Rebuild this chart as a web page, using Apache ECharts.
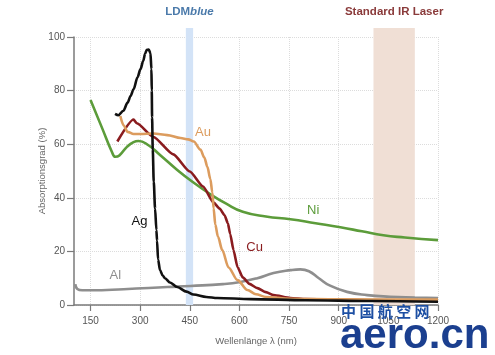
<!DOCTYPE html>
<html>
<head>
<meta charset="utf-8">
<script src="https://cdn.jsdelivr.net/npm/echarts@6/dist/echarts.min.js"></script>
<style>
html,body{margin:0;padding:0;background:#fff;}
#chart{width:495px;height:355px;}
</style>
</head>
<body>
<div id="chart"></div>
<script>
// ---- data (wavelength nm, absorption %) ----
var xTicks = [150, 300, 450, 600, 750, 900, 1050, 1200];
var yTicks = [0, 20, 40, 60, 80, 100];

var ag = [[224,71.3],[234,70.8],[249,72.5],[262,75.5],[271,78],[280,80.5],[292,85],[301,88],[309,91],[315,93.8],[320,95.2],[326,95.3],[331,94],[334,88],[335,80],[336,70],[338,58],[341,46],[345,36],[349,28],[351,24],[354,17],[360,13],[368,11],[375,10],[390,8.4],[412,6.7],[440,5],[461,3.9],[500,3],[533,2.6],[633,2.2],[800,1.8],[1000,1.5],[1200,1.2]];

var au = [[240,70.5],[250,67],[262,64.6],[280,63.8],[300,63.8],[340,64],[382,63.4],[422,62.3],[445,61.8],[462,61],[482,58],[494,55],[503,51.6],[512,47],[518,42],[522,36],[527,30],[535,25.5],[548,20.5],[567,14],[594,9.3],[624,5.6],[650,4],[680,3],[754,2.3],[900,2.1],[1200,2]];

var cu = [[231,61],[280,69.2],[290,67.8],[340,62.7],[400,56.2],[450,49.8],[490,44.2],[522,38.2],[540,36],[555,33.5],[565,30.5],[572,26.5],[582,20.5],[594,14.2],[610,10.3],[630,7.9],[654,6.3],[680,4.8],[703,3.7],[754,2.6],[800,2.2],[1000,1.8],[1200,1.6]];

var ni = [[150,76.5],[185,66],[215,57],[225,55.3],[237,55.8],[260,59],[280,60.8],[295,61.2],[325,59.6],[360,56],[412,50.4],[460,45.8],[510,41.5],[560,37.8],[610,34.8],[680,33],[754,32],[830,30.5],[905,29],[970,27.5],[1035,26],[1100,25.2],[1200,24.2]];

var al = [[104,7.8],[110,6],[125,5.5],[150,5.5],[250,5.9],[382,6.7],[452,7.1],[550,7.8],[603,8.6],[654,10],[703,11.9],[754,13],[784,13.3],[810,12.6],[840,10],[874,7.2],[925,4.9],[986,3.7],[1055,3.1],[1130,2.8],[1200,2.6]];

var ldmBand = [438, 460];
var irBand = [1005, 1130];

// label anchors in data units
var labelAt = {Ag:[298,31], Au:[490,64.5], Cu:[646,21.6], Ni:[823,35.4], Al:[225,11.2]};

var colors = {Ag:'#111111', Au:'#dc9c5e', Cu:'#8a1c1f', Ni:'#5c9c3a', Al:'#8e8e8e'};
var font = 'Liberation Sans, Arial, sans-serif';

var chart = echarts.init(document.getElementById('chart'));

function lineSeries(name, data, smooth, monotone){
  var s = {
    name: name, type: 'line', xAxisIndex: 0, yAxisIndex: 0,
    data: data, showSymbol: false, symbol: 'none',
    smooth: smooth,
    lineStyle: {color: colors[name], width: 2.6},
    z: 3,
    markPoint: {
      symbol: 'circle', symbolSize: 0, silent: true,
      label: {show: true, formatter: name, color: colors[name], fontSize: 13,
              fontFamily: font, position: 'inside'},
      data: [{coord: labelAt[name]}]
    }
  };
  if (monotone) s.smoothMonotone = 'x';
  return s;
}

chart.setOption({
  animation: false,
  backgroundColor: '#fff',
  grid: [
    {left: 74, right: 57, top: 37, bottom: 50},
    {left: 74, right: 57, top: 28, bottom: 50}
  ],
  xAxis: [
    {
      type: 'value', gridIndex: 0, min: 100, max: 1200,
      name: 'Wellenlänge λ (nm)', nameLocation: 'middle', nameGap: 31, nameMoveOverlap: false,
      nameTextStyle: {color: '#666', fontSize: 9.5, fontFamily: font},
      axisLine: {show: true, lineStyle: {color: '#7a7a7a', width: 1.5}},
      axisTick: {show: true, length: 6, inside: false, customValues: xTicks, lineStyle: {color: '#7a7a7a', width: 1.2}},
      axisLabel: {customValues: xTicks, color: '#555', fontSize: 10, margin: 11, fontFamily: font,
                  formatter: function (v) { return String(v); }},
      splitLine: {show: true, lineStyle: {color: '#dcdcdc', type: 'dotted', width: 1}}
    },
    {
      type: 'value', gridIndex: 1, min: 100, max: 1200, show: false
    }
  ],
  yAxis: [
    {
      type: 'value', gridIndex: 0, min: 0, max: 100, interval: 20,
      name: 'Absorptionsgrad (%)', nameLocation: 'middle', nameGap: 27, nameRotate: 90, nameMoveOverlap: false,
      nameTextStyle: {color: '#666', fontSize: 9.5, fontFamily: font},
      axisLine: {show: true, lineStyle: {color: '#7a7a7a', width: 1.5}},
      axisTick: {show: true, length: 7, inside: false, lineStyle: {color: '#7a7a7a', width: 1.2}},
      axisLabel: {color: '#555', fontSize: 10, margin: 9, fontFamily: font},
      splitLine: {show: true, lineStyle: {color: '#dcdcdc', type: 'dotted', width: 1}}
    },
    {
      type: 'value', gridIndex: 1, min: 0, max: 1, show: false
    }
  ],
  series: [
    {
      type: 'line', xAxisIndex: 1, yAxisIndex: 1, data: [], z: -1, silent: true,
      markArea: {
        silent: true,
        data: [
          [{xAxis: ldmBand[0], yAxis: 0, itemStyle: {color: '#d3e3f7'},
            label: {show: true, position: 'top', distance: 10,
                    formatter: '{a|LDM}{b|blue}',
                    rich: {a: {color: '#4b7aaa', fontSize: 11.5, fontWeight: 'bold', fontFamily: font},
                           b: {color: '#4b7aaa', fontSize: 11.5, fontWeight: 'bold', fontStyle: 'italic', fontFamily: font}}}},
           {xAxis: ldmBand[1], yAxis: 1}],
          [{xAxis: irBand[0], yAxis: 0, itemStyle: {color: '#f0dfd5'},
            label: {show: true, position: 'top', distance: 10,
                    formatter: 'Standard IR Laser', color: '#8a3a3a', fontSize: 11.5, fontWeight: 'bold', fontFamily: font}},
           {xAxis: irBand[1], yAxis: 1}]
        ]
      }
    },
    lineSeries('Al', al, 0.5, false),
    lineSeries('Ni', ni, 0.5, false),
    lineSeries('Cu', cu, 0.2, true),
    lineSeries('Au', au, 0.3, true),
    lineSeries('Ag', ag, 0.3, true)
  ],
  graphic: [
    {type: 'text', left: 341, top: 304, z: 100,
     style: {text: '中 国 航 空 网', fill: '#1d4fa3', font: 'bold 15px "Noto Sans CJK SC", sans-serif'}},
    {type: 'text', left: 340, top: 315, z: 100,
     style: {text: 'aero.cn', fill: '#1b3f8f', font: 'bold 42px "Liberation Sans", Arial, sans-serif'}}
  ]
});
</script>
</body>
</html>
